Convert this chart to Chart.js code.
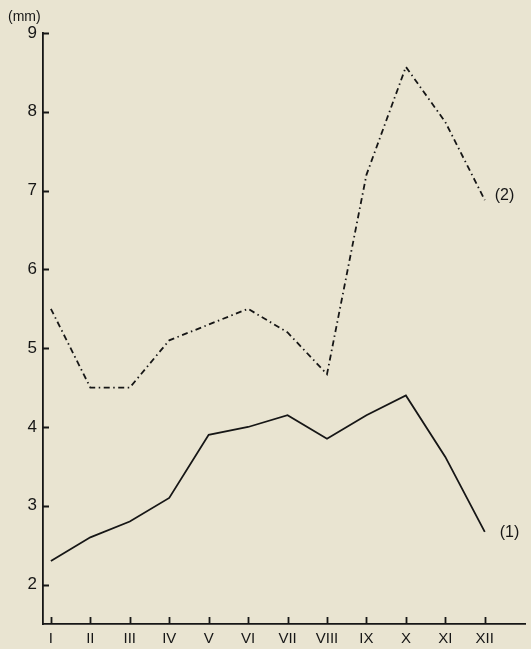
<!DOCTYPE html>
<html>
<head>
<meta charset="utf-8">
<script src="https://cdn.jsdelivr.net/npm/chart.js@4.4.1/dist/chart.umd.min.js"></script>
<style>
  html, body { margin: 0; padding: 0; background: #e9e4d1; }
  #wrap { width: 531px; height: 649px; position: relative; }
</style>
</head>
<body>
<div id="wrap"><canvas id="chart"></canvas></div>
<script>
// months along the bottom, roman numerals
const months = ["I", "II", "III", "IV", "V", "VI", "VII", "VIII", "IX", "X", "XI", "XII"];
// curve (1), mm
const series1 = [2.3, 2.6, 2.8, 3.1, 3.9, 4.0, 4.15, 3.85, 4.15, 4.4, 3.62, 2.67];
// curve (2), mm
const series2 = [5.5, 4.5, 4.5, 5.1, 5.3, 5.5, 5.2, 4.67, 7.2, 8.57, 7.87, 6.88];
const yTicks = [2, 3, 4, 5, 6, 7, 8, 9];

const ink = "#161616";
const font = "'Liberation Sans', sans-serif";

const toPoints = arr => arr.map((v, i) => ({ x: i, y: v }));

// short tick marks pointing into the plot, plus series tags and the unit
const inwardTicks = {
    id: "inwardTicks",
    afterDraw(chart) {
        const ctx = chart.ctx;
        const xs = chart.scales.x;
        const ys = chart.scales.y;
        const area = chart.chartArea;
        ctx.save();
        ctx.strokeStyle = ink;
        ctx.lineWidth = 1.8;
        ctx.beginPath();
        yTicks.forEach(v => {
            const py = Math.round(ys.getPixelForValue(v)) + 0.5;
            ctx.moveTo(area.left, py);
            ctx.lineTo(area.left + 6, py);
        });
        months.forEach((m, i) => {
            const px = Math.round(xs.getPixelForValue(i)) + 0.5;
            ctx.moveTo(px, area.bottom);
            ctx.lineTo(px, area.bottom - 7);
        });
        ctx.stroke();

        ctx.fillStyle = ink;
        ctx.font = "16px " + font;
        ctx.textBaseline = "middle";
        ctx.textAlign = "left";
        const last = months.length - 1;
        ctx.fillText("(1)", xs.getPixelForValue(last) + 15, ys.getPixelForValue(series1[last]) + 1);
        ctx.fillText("(2)", xs.getPixelForValue(last) + 10, ys.getPixelForValue(series2[last]) - 4);

        ctx.font = "14px " + font;
        ctx.fillText("(mm)", 8, 17);
        ctx.restore();
    }
};

new Chart(document.getElementById("chart"), {
    type: "line",
    data: {
        datasets: [
            {
                label: "(1)",
                data: toPoints(series1),
                borderColor: ink,
                borderWidth: 1.8,
                pointRadius: 0,
                tension: 0,
                fill: false
            },
            {
                label: "(2)",
                data: toPoints(series2),
                borderColor: ink,
                borderWidth: 1.8,
                borderDash: [6, 3.5, 1.5, 3.5],
                pointRadius: 0,
                tension: 0,
                fill: false
            }
        ]
    },
    options: {
        responsive: true,
        maintainAspectRatio: false,
        animation: false,
        layout: { padding: { top: 33, right: 6, left: 0, bottom: 0 } },
        plugins: {
            legend: { display: false },
            tooltip: { enabled: false }
        },
        scales: {
            x: {
                type: "linear",
                min: -0.2,
                max: 12.02,
                afterBuildTicks(scale) {
                    scale.ticks = months.map((m, i) => ({ value: i }));
                },
                afterFit(scale) { scale.height = 25; },
                ticks: {
                    color: ink,
                    font: { family: font, size: 15 },
                    padding: 6,
                    maxRotation: 0,
                    autoSkip: false,
                    callback: v => months[v]
                },
                grid: { display: false, drawTicks: false },
                border: { display: true, color: ink, width: 1.8 }
            },
            y: {
                type: "linear",
                min: 1.5,
                max: 9,
                afterBuildTicks(scale) {
                    scale.ticks = yTicks.map(v => ({ value: v }));
                },
                afterFit(scale) { scale.width = 43; },
                ticks: {
                    color: ink,
                    font: { family: font, size: 17 },
                    padding: 6
                },
                grid: { display: false, drawTicks: false },
                border: { display: true, color: ink, width: 1.8 }
            }
        }
    },
    plugins: [inwardTicks]
});
</script>
</body>
</html>
